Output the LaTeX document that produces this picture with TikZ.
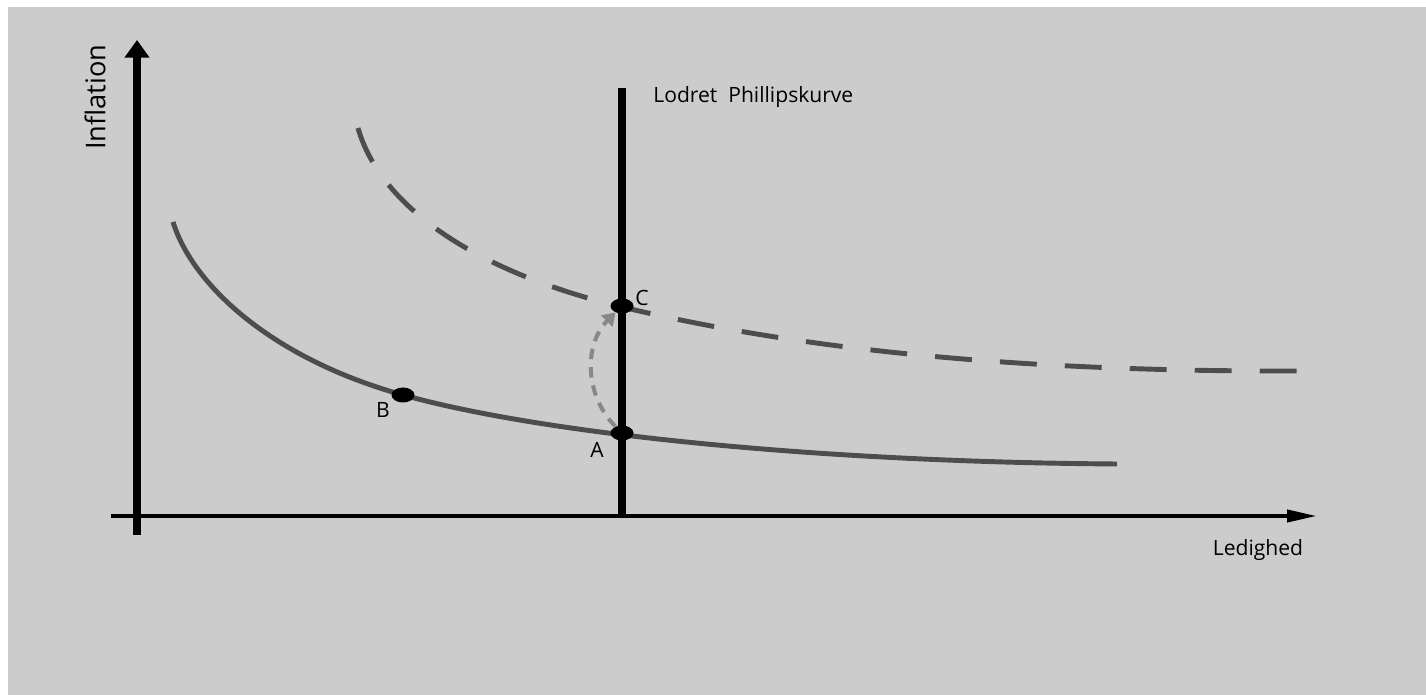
\documentclass[tikz,border=0pt]{standalone}
\usepackage{fontspec}
\setmainfont{Open Sans}
\definecolor{bggray}{RGB}{204, 204, 204}
\definecolor{curvegray}{RGB}{77, 77, 77}
\definecolor{shiftgray}{RGB}{136, 136, 136}
\usepackage{tikz}
\usetikzlibrary{shapes.geometric, arrows.meta, positioning}
\tikzset{
    yaxis/.style={line width=4.5pt, -{Triangle[length=10pt, width=13.6pt]}},
    xaxis/.style={line width=2.3pt, -{Triangle[length=17pt, width=6.8pt]}},
    vertline/.style={line width=5pt},
    pcurve/.style={line width=2.8pt, draw=curvegray},
    pdashed/.style={pcurve, dash pattern=on 21pt off 16pt},
    shiftarrow/.style={line width=2.3pt, draw=shiftgray, dash pattern=on 6pt off 4.5pt, -{Triangle[length=7pt, width=9pt, fill=shiftgray]}},
    dotnode/.style={ellipse, fill=black, inner sep=0pt, minimum width=0.46cm, minimum height=0.3cm},
    smalllabel/.style={font=\fontsize{12}{14}\selectfont, inner sep=0pt},
    biglabel/.style={font=\fontsize{15.5}{18}\selectfont, inner sep=0pt},
}

\begin{document}
\begin{tikzpicture}[x=0.02cm, y=0.02cm]
    \useasboundingbox (0,0) rectangle (1426,695);
    \fill[bggray] (8,0) rectangle (1426,688);

    % axes
    \coordinate (yfoot) at (137,160);
    \coordinate (ytop) at (137,655);
    \coordinate (xleft) at (111,179);
    \coordinate (xright) at (1317,179);
    \draw[yaxis] (yfoot) -- (ytop);
    \draw[xaxis] (xleft) -- (xright);
    \node[biglabel, rotate=90] (inflation) at (95,598) {Inflation};
    \node[smalllabel] (ledighed) at (1258,145) {Ledighed};

    % lodret Phillipskurve
    \coordinate (vtop) at (622,607);
    \coordinate (vfoot) at (622,179);
    \draw[vertline] (vfoot) -- (vtop);
    \node[smalllabel, anchor=west] (lodret) at (653,598) {Lodret\ \ Phillipskurve};

    % kortsigtede kurver
    \draw[pcurve] (173,473) .. controls (193,409) and (273,336) .. (403,300)
                  .. controls (543,261) and (817,233) .. (1117,231);
    \draw[pdashed] (358,567) .. controls (380,490) and (472,424) .. (622,388)
                   .. controls (822,340) and (1054,323) .. (1304,324);

    % punkter
    \node[dotnode] (B) at (403,300) {};
    \node[dotnode] (A) at (622,262) {};
    \node[dotnode] (C) at (622,389) {};
    \node[smalllabel] (Blabel) at (383,285) {B};
    \node[smalllabel] (Alabel) at (597,245) {A};
    \node[smalllabel] (Clabel) at (642,397) {C};

    \draw[shiftarrow] (A) to[bend left=45] (C);
\end{tikzpicture}
\end{document}
